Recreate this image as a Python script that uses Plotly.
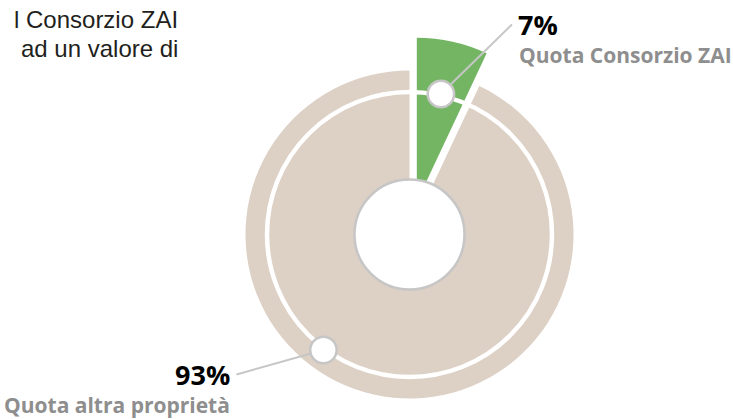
import math
import plotly.graph_objects as go

W, H = 733, 419

# ---- data ----
labels = ["Quota Consorzio ZAI", "Quota altra proprietà"]
values = [7, 93]
pct_text = ["7%", "93%"]
colors = ["#74b564", "#ddd0c5"]
intro_lines = ["l Consorzio ZAI", "ad un valore di"]

# ---- style ----
CX, CY = 409.5, 234.5        # centre of the donut (pixel units of the canvas axes)
R = 164                      # pie radius
PULLS = [0.205, 0.0]         # exploded slice
RING_R = 142.5               # white inner ring
HOLE_R = 55                  # central white disc
DOT_R = 13.2                 # label dots
label_angle_override = [None, 216.7]
label_anchor = [(512, 24.5), (236.5, 374.5)]
GREY = "#c6c6c6"
TXT_GREY = "#8e8e8e"
LABEL_FONT = "Open Sans"

total = sum(values)
angles = []
start = 0.0
for v in values:
    span = 360.0 * v / total
    angles.append((start, start + span))
    start += span


def pt(r, ang, cx=CX, cy=CY):
    a = math.radians(ang)
    return cx + r * math.sin(a), cy - r * math.cos(a)


fig = go.Figure()
# invisible trace so the canvas axes exist
fig.add_trace(go.Scatter(x=[0, W], y=[0, H], mode="markers",
                         marker=dict(opacity=0), hoverinfo="skip", showlegend=False))

for i, (v, c) in enumerate(zip(values, colors)):
    mid = (angles[i][0] + angles[i][1]) / 2
    cx, cy = pt(PULLS[i] * R, mid)
    cols = [c if j == i else "rgba(0,0,0,0)" for j in range(len(values))]
    fig.add_trace(go.Pie(
        labels=labels, values=values, sort=False, direction="clockwise", rotation=0,
        marker=dict(colors=cols, line=dict(width=0)),
        textinfo="none", hoverinfo="skip", showlegend=False,
        domain=dict(x=[(cx - R) / W, (cx + R) / W],
                    y=[(H - cy - R) / H, (H - cy + R) / H]),
    ))

shapes = []
# white ring
shapes.append(dict(type="circle", xref="x", yref="y", layer="above",
                   x0=CX - RING_R, x1=CX + RING_R, y0=CY - RING_R, y1=CY + RING_R,
                   line=dict(color="white", width=4.5)))
# centre disc
shapes.append(dict(type="circle", xref="x", yref="y", layer="above",
                   x0=CX - HOLE_R, x1=CX + HOLE_R, y0=CY - HOLE_R, y1=CY + HOLE_R,
                   fillcolor="white", line=dict(color=GREY, width=2.5)))

annotations = []
for i in range(len(values)):
    mid = (angles[i][0] + angles[i][1]) / 2
    ang = label_angle_override[i] if label_angle_override[i] is not None else mid
    dx, dy = pt(RING_R + 1.5, ang)
    ax, ay = label_anchor[i]
    shapes.append(dict(type="line", xref="x", yref="y", layer="above",
                       x0=dx, y0=dy, x1=ax, y1=ay, line=dict(color=GREY, width=2)))
    shapes.append(dict(type="circle", xref="x", yref="y", layer="above",
                       x0=dx - DOT_R, x1=dx + DOT_R, y0=dy - DOT_R, y1=dy + DOT_R,
                       fillcolor="white", line=dict(color=GREY, width=2.5)))
    right_side = ax > CX
    xanchor = "left" if right_side else "right"
    tx = ax + (4 if right_side else -5)
    annotations.append(dict(x=tx, y=ay - 0.5, xref="x", yref="y",
                            text=pct_text[i],
                            showarrow=False, xanchor=xanchor, yanchor="middle",
                            font=dict(family=LABEL_FONT, size=27, color="black", weight="bold")))
    annotations.append(dict(x=tx + (1 if right_side else 0), y=ay + 30.5,
                            xref="x", yref="y",
                            text=labels[i], showarrow=False, xanchor=xanchor, yanchor="middle",
                            font=dict(family=LABEL_FONT, size=21, color=TXT_GREY, weight="bold")))

for k, line in enumerate(intro_lines):
    annotations.append(dict(x=180, y=19 + 29 * k, xref="x", yref="y", text=line,
                            showarrow=False, xanchor="right", yanchor="middle",
                            font=dict(family="Liberation Sans", size=24, color="#231f20")))

fig.update_layout(
    width=W, height=H, margin=dict(l=0, r=0, t=0, b=0),
    paper_bgcolor="white", plot_bgcolor="white", showlegend=False,
    xaxis=dict(range=[0, W], visible=False, fixedrange=True),
    yaxis=dict(range=[H, 0], visible=False, fixedrange=True),
    shapes=shapes, annotations=annotations,
)

fig.write_html("out.html", config={"displayModeBar": False},
               post_script="document.body.style.margin='0px';document.body.style.overflow='hidden';")
